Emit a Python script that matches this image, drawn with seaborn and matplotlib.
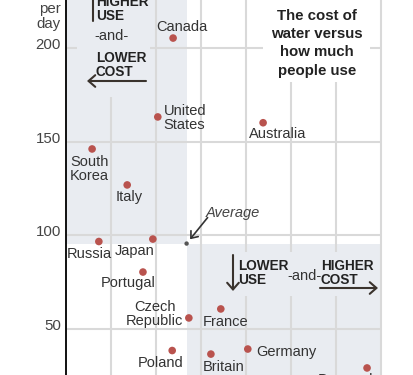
import matplotlib
matplotlib.use("Agg")
import matplotlib.pyplot as plt
import matplotlib.transforms as mtransforms
from matplotlib.patches import Rectangle
import seaborn as sns
import pandas as pd

# ---------------- data ----------------
countries = ["Canada", "United\nStates", "Australia", "South\nKorea", "Italy",
             "Russia", "Japan", "Portugal", "Czech\nRepublic", "Poland",
             "France", "Britain", "Germany", "Denmark"]
price = [2.38, 2.04, 4.38, 0.58, 1.36, 0.73, 1.93, 1.71, 2.73, 2.36,
         3.44, 3.22, 4.04, 6.69]
use = [205.3, 163.2, 160.1, 146.1, 126.9, 96.7, 98.0, 80.4, 55.9, 38.5,
       60.7, 36.6, 39.3, 29.2]
avg_price = 2.68
avg_use = 95.6
y_ticks = [50, 100, 150, 200]
y_tick_labels = ["50", "100", "150", "200"]
x_grid = [1, 2, 3, 4, 5, 6, 7]
title_lines = ["The cost of", "water versus", "how much", "people use"]

# label placement (pixel offsets from the dot, dy positive = up)
label_pos = {
    "Canada": (-17, 12, "left"),
    "United\nStates": (6, 0, "left"),
    "Australia": (-14, -10, "left"),
    "South\nKorea": (-22, -19, "left"),
    "Italy": (-12, -11, "left"),
    "Russia": (-32, -11, "left"),
    "Japan": (-38, -11, "left"),
    "Portugal": (-42, -10, "left"),
    "Czech\nRepublic": (-34, 5, "center"),
    "Poland": (-34, -11, "left"),
    "France": (-18, -12, "left"),
    "Britain": (-8, -12, "left"),
    "Germany": (8, -2, "left"),
    "Denmark": (-49, -11, "left"),
}

# ---------------- style ----------------
W, H = 414, 375
RED = "#b9534e"
SHADE = "#e9ecf1"
GRID = "#d9d9d9"
DARK = "#222222"
TXT = "#333333"

sns.set_theme(style="white")
plt.rcParams["font.family"] = ["Liberation Sans", "DejaVu Sans"]

fig = plt.figure(figsize=(W / 100, H / 100), dpi=100)
fig.patch.set_facecolor("white")
ax = fig.add_axes([66 / W, 0, 320 / W, 1])
ax.set_facecolor("none")
ax.set_xlim(0, 320 / 45)
ax.set_ylim(25.44, 225.62)

def fx(x):
    return x / W

def fy(y):
    return 1 - y / H

TF = fig.transFigure

# quadrant shading
ax.add_patch(Rectangle((0, avg_use), avg_price, 300 - avg_use,
                       facecolor=SHADE, edgecolor="none", zorder=0.2))
ax.add_patch(Rectangle((avg_price, 0), 7.02 - avg_price, avg_use,
                       facecolor=SHADE, edgecolor="none", zorder=0.2))

# grid
ax.vlines(x_grid, 0, 300, color=GRID, lw=1.5, zorder=0.5)
ax.hlines(y_ticks, 0, 7, color=GRID, lw=1.5, zorder=0.5)

# axes styling
for s in ["top", "right", "bottom"]:
    ax.spines[s].set_visible(False)
ax.spines["left"].set_color("#111111")
ax.spines["left"].set_linewidth(1.4)
ax.set_xticks([])
ax.set_yticks([])

# y tick labels
ytr = mtransforms.offset_copy(ax.get_yaxis_transform(), fig=fig, x=-5, y=-1, units="dots")
for v, lab in zip(y_ticks, y_tick_labels):
    ax.text(0, v, lab, transform=ytr, ha="right", va="baseline",
            fontsize=10.8, color="#444444")
ax.text(fx(61), fy(13), "per", transform=TF, ha="right", va="baseline",
        fontsize=10.8, color="#444444")
ax.text(fx(61), fy(28), "day", transform=TF, ha="right", va="baseline",
        fontsize=10.8, color="#444444")

# background patches behind annotation blocks
ax.add_patch(Rectangle((fx(77), fy(97)), 73 / W, 97 / H, transform=TF,
                       facecolor=SHADE, edgecolor="none", zorder=0.8))
ax.add_patch(Rectangle((fx(226), fy(296)), 152 / W, 44 / H, transform=TF,
                       facecolor=SHADE, edgecolor="none", zorder=0.8))
ax.add_patch(Rectangle((fx(263), fy(82)), 107 / W, 82 / H, transform=TF,
                       facecolor="white", edgecolor="none", zorder=0.8))

# data points
df = pd.DataFrame({"country": countries, "price": price, "use": use})
sns.scatterplot(data=df, x="price", y="use", color=RED, s=30,
                edgecolor="none", linewidth=0, ax=ax, legend=False, zorder=3)
sns.scatterplot(x=[avg_price], y=[avg_use], color="#555555", s=10,
                edgecolor="none", linewidth=0, ax=ax, legend=False, zorder=3)
ax.set_xlabel("")
ax.set_ylabel("")

for c, px_, py_ in zip(countries, price, use):
    dx, dy, ha = label_pos[c]
    ax.annotate(c, xy=(px_, py_), xytext=(dx, dy - 1), textcoords="offset pixels",
                ha=ha, va="center", fontsize=10.5, color=TXT,
                multialignment=ha,
                linespacing=1.0, zorder=4, annotation_clip=False)

# average annotation
ax.annotate("", xy=(avg_price, avg_use), xytext=(21, 26), textcoords="offset pixels",
            arrowprops=dict(arrowstyle="->,head_length=0.35,head_width=0.28",
                            color="#333333", lw=1.2, shrinkA=0, shrinkB=4))
ax.annotate("Average", xy=(avg_price, avg_use), xytext=(19, 31), textcoords="offset pixels",
            ha="left", va="center", fontsize=10.5, style="italic", color="#444444")

# quadrant annotations
bold = dict(fontsize=9.8, fontweight="bold", color=DARK,
            transform=TF, va="center_baseline", ha="left", zorder=4)
reg = dict(fontsize=10.5, color=TXT, transform=TF, va="center_baseline",
           ha="left", zorder=4)
ax.text(fx(96), fy(0), "HIGHER", **bold)
ax.text(fx(96), fy(15), "USE", **bold)
ax.text(fx(94), fy(34), "-and-", **reg)
ax.text(fx(96), fy(56), "LOWER", **bold)
ax.text(fx(96), fy(71), "COST", **bold)

ax.text(fx(238), fy(265), "LOWER", **bold)
ax.text(fx(238), fy(279), "USE", **bold)
ax.text(fx(287), fy(275), "-and-", **reg)
ax.text(fx(321), fy(265), "HIGHER", **bold)
ax.text(fx(321), fy(279), "COST", **bold)

arrow_kw = dict(arrowstyle="->,head_length=0.4,head_width=0.35", color="#3a332d",
                lw=1.5, shrinkA=0, shrinkB=0)
for (x0, y0), (x1, y1) in [((93, 21), (93, -30)), ((146, 81), (87, 81)),
                           ((233, 255), (233, 291)), ((320, 288), (378, 288))]:
    ax.annotate("", xy=(fx(x1), fy(y1)), xytext=(fx(x0), fy(y0)),
                xycoords="figure fraction", textcoords="figure fraction",
                arrowprops=arrow_kw, zorder=4)

# title
for i, line in enumerate(title_lines):
    ax.text(fx(317), fy(15 + 18 * i), line, transform=TF, ha="center",
            va="center_baseline", fontsize=10.8, fontweight="bold", color=DARK,
            zorder=4)

fig.savefig("out.png", dpi=100, facecolor="white")
